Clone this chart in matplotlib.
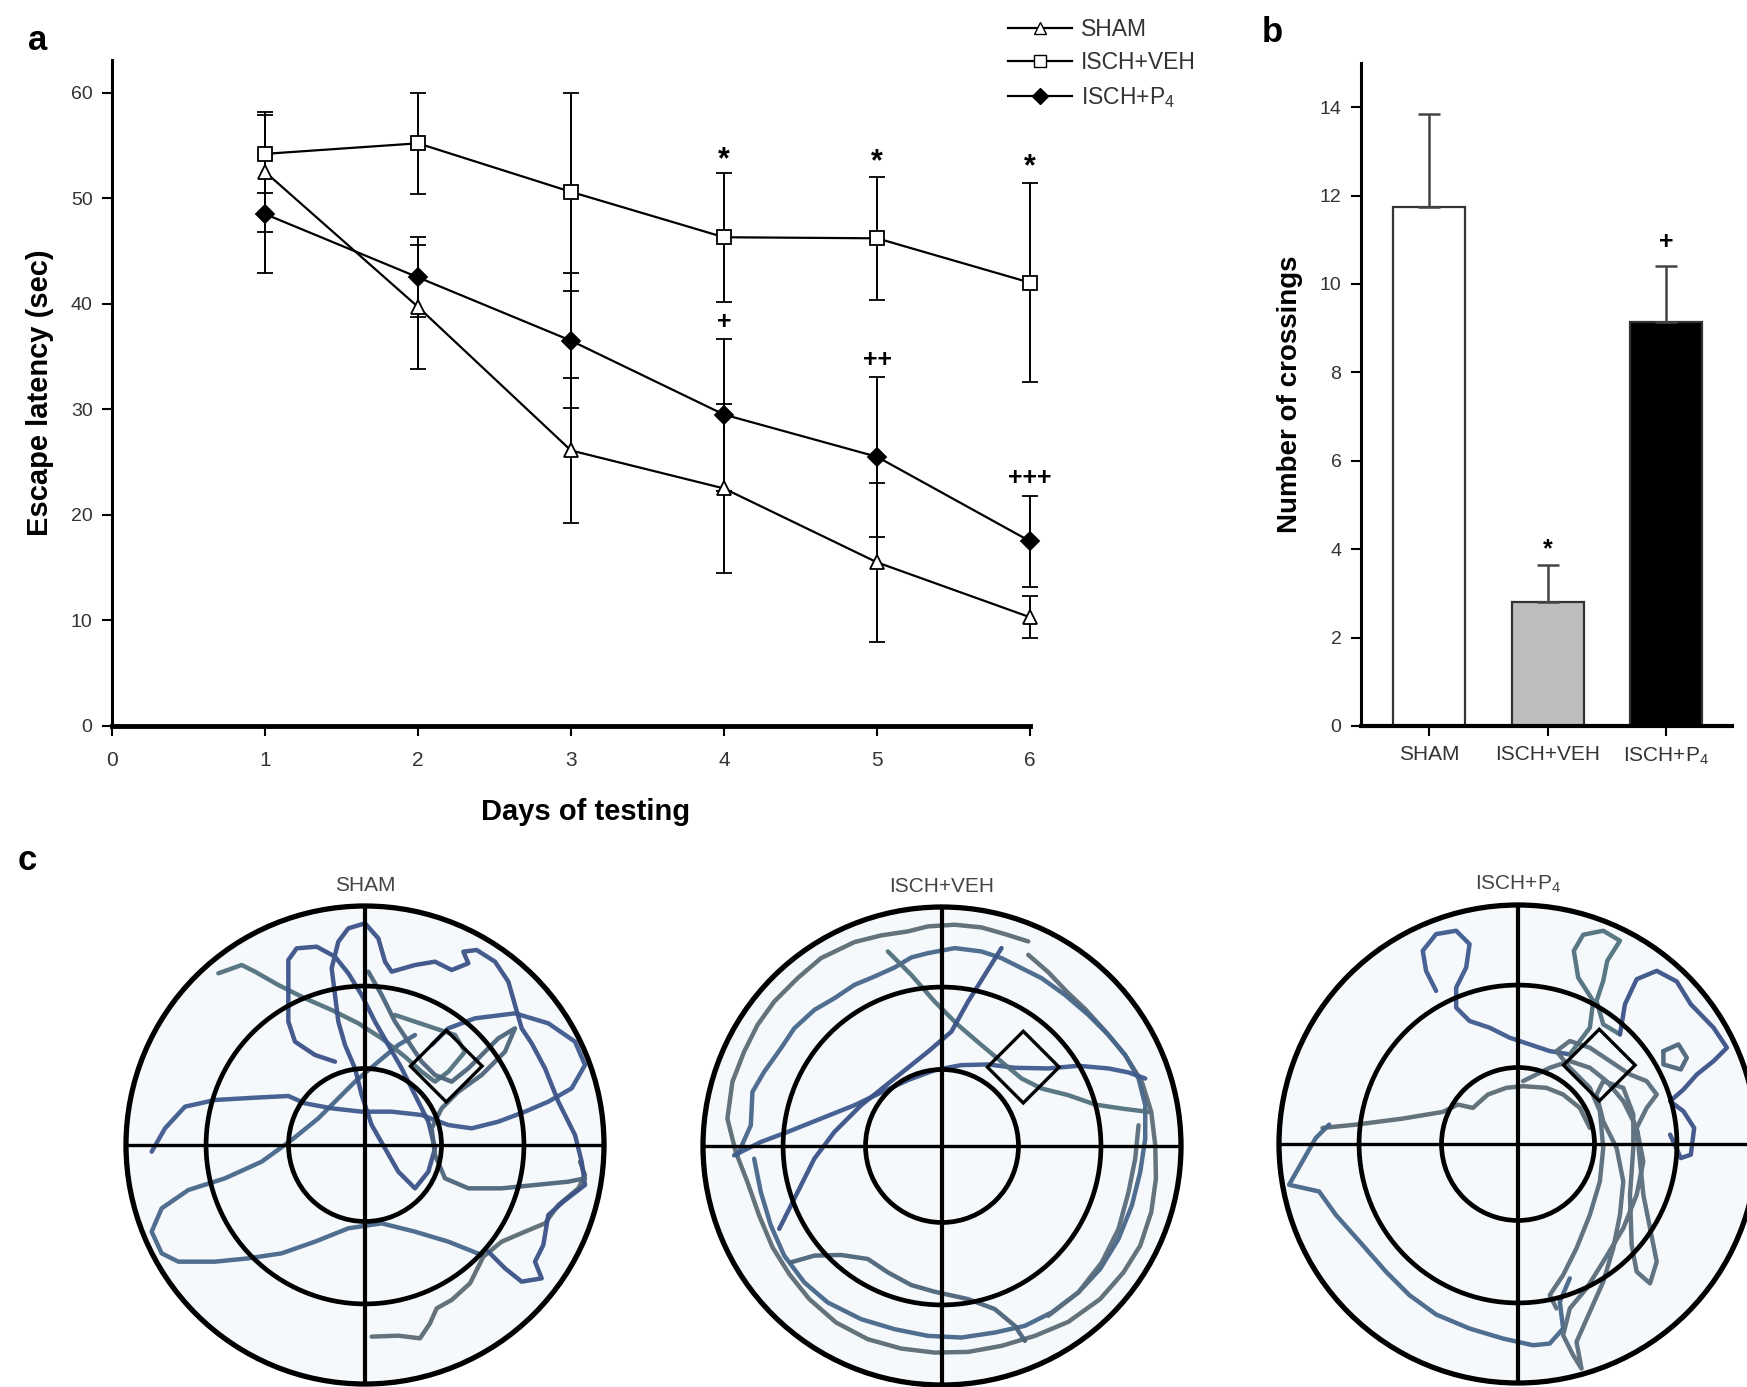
import numpy as np
import matplotlib.pyplot as plt
from matplotlib.lines import Line2D
from matplotlib.patches import Circle, Polygon

plt.rcParams['font.family'] = ['Liberation Sans', 'DejaVu Sans']
plt.rcParams['mathtext.default'] = 'regular'

# ---- panel a: escape latency ----
days = [1, 2, 3, 4, 5, 6]
sham_lat = [52.5, 39.7, 26.1, 22.5, 15.5, 10.3]
sham_err = [5.7, 5.9, 6.9, 8.0, 7.5, 2.0]
veh_lat = [54.2, 55.2, 50.6, 46.3, 46.2, 42.0]
veh_err = [3.7, 4.8, 9.4, 6.1, 5.8, 9.4]
p4_lat = [48.5, 42.5, 36.5, 29.5, 25.5, 17.5]
p4_err = [5.6, 3.8, 6.4, 7.2, 7.6, 4.3]

star_days = [4, 5, 6]
star_y = [53.6, 53.4, 52.9]
cross_days = [4, 5, 6]
cross_marks = ['+', '++', '+++']
cross_y = [38.3, 34.7, 23.5]

# ---- panel b: platform crossings ----
groups = ['SHAM', 'ISCH+VEH', 'ISCH+P$_4$']
crossings = [11.75, 2.81, 9.14]
crossings_err = [2.1, 0.83, 1.26]
bar_colors = ['white', '#bdbdbd', 'black']
bar_marks = ['', '*', '+']
bar_mark_y = [0, 4.0, 10.95]

# ---- panel c: swim paths (tracker grid units) ----
sham_tracks = [
    [(770, 1325), (850, 1322), (915, 1330), (945, 1285), (965, 1240), (1010, 1215), (1065, 1165),
     (1105, 1085), (1160, 1040), (1230, 1010), (1290, 985), (1330, 930), (1390, 880), (1410, 840), (1395, 800)],
    [(1100, 1080), (1000, 1040), (900, 1010), (800, 985), (700, 1000), (600, 1040), (500, 1075),
     (400, 1090), (300, 1100), (190, 1100), (140, 1075), (110, 1010), (140, 940), (220, 885), (330, 850),
     (440, 800), (530, 735), (610, 670), (670, 610), (720, 560), (790, 500), (850, 450), (900, 420)],
    [(110, 770), (150, 700), (210, 635), (300, 615), (420, 608), (520, 603), (570, 625), (650, 640),
     (740, 650), (830, 650), (920, 660), (1000, 690), (1070, 700), (1150, 680), (1230, 650), (1300, 620),
     (1370, 580), (1410, 510), (1380, 440), (1300, 385), (1200, 355), (1080, 370), (1000, 400), (950, 450)],
    [(310, 235), (380, 210), (420, 230), (490, 270), (570, 310), (650, 345), (730, 385), (800, 430),
     (870, 485), (920, 530), (960, 560), (1000, 530), (1050, 470), (1020, 420), (960, 400), (900, 380), (840, 360)],
    [(660, 500), (600, 480), (540, 440), (520, 380), (520, 270), (520, 195), (545, 160), (605, 155),
     (660, 185), (700, 235), (740, 300), (780, 380), (820, 450), (860, 520), (900, 600), (940, 680),
     (960, 760), (940, 830), (900, 880), (850, 830), (810, 760), (770, 690), (740, 600), (720, 520),
     (690, 450), (670, 380), (660, 300), (650, 220), (670, 140), (700, 100), (750, 85), (790, 130),
     (810, 200), (830, 230), (900, 210), (960, 200), (1010, 225), (1060, 205), (1045, 170), (1085, 165),
     (1140, 200), (1180, 260), (1200, 330), (1220, 400), (1250, 445), (1290, 520), (1330, 620),
     (1380, 720), (1400, 800), (1410, 870), (1345, 920), (1300, 960), (1285, 1050), (1260, 1100),
     (1280, 1150), (1220, 1160), (1170, 1120), (1120, 1070)],
    [(760, 230), (800, 300), (840, 380), (880, 440), (920, 500), (960, 540), (1010, 560), (1060, 520),
     (1100, 480), (1150, 430), (1200, 400), (1170, 470), (1100, 540), (1030, 590), (980, 640), (950, 700),
     (960, 780), (990, 850), (1060, 880), (1160, 880), (1260, 870), (1360, 860), (1410, 850)],
]
veh_tracks = [
    [(1000, 150), (930, 128), (860, 108), (780, 100), (700, 105), (640, 120), (560, 132), (480, 152),
     (380, 200), (310, 260), (240, 330), (190, 400), (150, 480), (115, 570), (100, 680), (125, 780),
     (160, 870), (195, 970), (235, 1065), (285, 1145), (345, 1220), (425, 1290), (520, 1340), (620, 1368),
     (720, 1380), (820, 1378), (920, 1360), (1020, 1330), (1120, 1288), (1215, 1220), (1285, 1140),
     (1335, 1060), (1368, 960), (1382, 860), (1380, 760), (1368, 660), (1340, 570), (1290, 490),
     (1232, 420), (1170, 352), (1115, 300), (1060, 242), (1000, 190)],
    [(130, 790), (170, 700), (175, 600), (210, 540), (260, 470), (300, 410), (360, 355), (420, 320),
     (480, 280), (540, 255), (600, 228), (650, 198), (700, 185), (780, 170), (860, 180), (920, 200),
     (970, 225), (1040, 260), (1110, 310), (1180, 370), (1240, 430), (1290, 490), (1330, 560),
     (1350, 640), (1350, 740), (1335, 840), (1310, 940), (1270, 1040), (1215, 1130), (1150, 1200),
     (1070, 1260), (990, 1300), (900, 1320), (800, 1335), (700, 1330), (600, 1310), (500, 1280),
     (400, 1230), (330, 1170), (270, 1090), (230, 1000), (200, 900), (180, 800)],
    [(120, 790), (200, 750), (280, 720), (380, 680), (480, 640), (560, 602), (640, 565), (720, 535),
     (800, 520), (880, 518), (960, 528), (1060, 530), (1150, 522), (1240, 530), (1300, 542), (1350, 560)],
    [(580, 180), (650, 250), (720, 330), (790, 400), (860, 460), (920, 510), (980, 560), (1040, 590),
     (1120, 610), (1200, 638), (1280, 650), (1360, 660)],
    [(920, 170), (870, 250), (820, 330), (770, 420), (700, 480), (600, 560), (500, 640), (420, 720),
     (360, 800), (320, 880), (280, 960), (255, 1010)],
    [(290, 1110), (360, 1090), (440, 1088), (520, 1100), (580, 1140), (650, 1178), (720, 1198),
     (820, 1220), (900, 1250), (960, 1300), (990, 1345)],
    [(1060, 1270), (1150, 1200), (1220, 1110), (1270, 1010), (1300, 900), (1320, 800), (1330, 700)],
]
p4_tracks = [
    [(160, 700), (260, 690), (400, 672), (520, 652), (565, 630), (610, 640), (655, 600), (710, 580),
     (760, 575), (830, 580), (880, 600), (930, 640), (960, 700)],
    [(180, 690), (140, 730), (60, 870), (150, 890), (200, 960), (280, 1050), (350, 1130), (420, 1200),
     (500, 1258), (600, 1300), (700, 1330), (790, 1350), (840, 1345), (880, 1300), (870, 1220), (900, 1150)],
    [(500, 290), (470, 230), (460, 170), (500, 120), (560, 110), (600, 150), (590, 220), (560, 280),
     (560, 340), (600, 380), (660, 400), (720, 430), (780, 450), (840, 470), (900, 480)],
    [(900, 480), (960, 400), (970, 320), (925, 250), (912, 170), (940, 122), (1000, 110), (1050, 140),
     (1012, 200), (1000, 260), (980, 320), (1000, 390), (1050, 420)],
    [(1050, 420), (1065, 330), (1100, 255), (1160, 230), (1220, 262), (1262, 330), (1330, 400),
     (1370, 460), (1330, 500), (1280, 540), (1240, 585), (1200, 620), (1240, 650), (1272, 700),
     (1262, 780), (1232, 790), (1200, 720)],
    [(1180, 470), (1225, 450), (1250, 490), (1232, 525), (1180, 510), (1180, 470)],
    [(760, 560), (840, 520), (900, 500), (960, 520), (1010, 560), (1060, 620), (1100, 700), (1120, 800),
     (1100, 900), (1060, 1000), (1000, 1100), (950, 1180), (900, 1240), (880, 1320), (910, 1380),
     (935, 1420), (920, 1340), (960, 1250), (1000, 1160), (1030, 1060), (1050, 960), (1060, 860),
     (1040, 760), (1000, 680), (980, 600), (1000, 560), (1060, 580), (1090, 660), (1090, 760),
     (1080, 900), (1085, 1050), (1100, 1130), (1140, 1165), (1160, 1100), (1140, 1000), (1120, 900),
     (1110, 800), (1100, 700), (1130, 640), (1160, 600), (1130, 560), (1080, 540), (1020, 500),
     (960, 460), (900, 440), (860, 470), (900, 520), (960, 580), (990, 650), (1000, 760), (990, 860),
     (960, 960), (920, 1060), (880, 1140), (840, 1200), (860, 1240)],
]
# tracker calibration: pool centre and radius in grid units
pool_calib = [(750, 750, 717), (742, 762, 715), (745, 748, 715)]
pool_titles = ['SHAM', 'ISCH+VEH', 'ISCH+P$_4$']
ring_radii = [1.0, 0.665, 0.32]
platform_xy = (0.34, 0.33)
platform_half = 0.15

track_colors = ['#5b6b74', '#46668a', '#3f5a8e', '#52707e', '#3b5288', '#4d647a', '#5a6d7c']

fig = plt.figure(figsize=(17.47, 13.87), dpi=100)

# ---------------- panel a ----------------
ax = fig.add_axes([0.0641, 0.4766, 0.5255, 0.4802])
series = [
    (sham_lat, sham_err, '^', 'white', 10, 'SHAM'),
    (veh_lat, veh_err, 's', 'white', 10, 'ISCH+VEH'),
    (p4_lat, p4_err, 'D', 'black', 9, 'ISCH+P$_4$'),
]
handles = []
for lat, err, mk, fc, ms, lab in series:
    cont = ax.errorbar(days, lat, yerr=err, fmt='-', color='black', lw=1.6, marker=mk, ms=ms,
                       mfc=fc, mec='black', mew=1.3, ecolor='black', elinewidth=1.4,
                       capsize=6, capthick=1.6, zorder=3)
    cont.lines[0].set_clip_on(False)
    for c in cont.lines[1]:
        c.set_clip_on(False)
    for b in cont.lines[2]:
        b.set_clip_on(False)
    handles.append(Line2D([], [], color='black', lw=1.6, marker=mk, ms=ms - 1, mfc=fc, mec='black'))

for d, y in zip(star_days, star_y):
    ax.text(d, y, '*', ha='center', va='center', fontsize=22, fontweight='bold')
for d, m, y in zip(cross_days, cross_marks, cross_y):
    ax.text(d, y, m, ha='center', va='center', fontsize=18, fontweight='bold')

ax.set_xlim(0, 6)
ax.set_ylim(0, 63.1)
ax.set_xticks(range(0, 7))
ax.set_yticks(range(0, 61, 10))
ax.spines['top'].set_visible(False)
ax.spines['right'].set_visible(False)
ax.spines['left'].set_linewidth(2.2)
ax.spines['bottom'].set_linewidth(3.5)
ax.tick_params(direction='out', length=7, width=1.5, labelsize=14, labelcolor='#333333', pad=7)
ax.tick_params(axis='x', labelsize=15, pad=11)
ax.set_xlabel('Days of testing', fontsize=21, fontweight='bold')
ax.xaxis.set_label_coords(0.516, -0.108)
ax.set_ylabel('Escape latency (sec)', fontsize=21, fontweight='bold', labelpad=12)

fig.legend(handles, [s[5] for s in series], loc='upper left',
           bbox_to_anchor=(1008 / 1747, 1 - 18 / 1387), frameon=False, fontsize=16.5,
           handlelength=2.8, handletextpad=0.4, labelspacing=0.45, borderpad=0, borderaxespad=0,
           labelcolor='#333333')

# ---------------- panel b ----------------
bx = fig.add_axes([0.779, 0.4766, 0.2124, 0.478])
xpos = np.arange(len(groups))
bx.bar(xpos, crossings, width=0.61, color=bar_colors, edgecolor='#333333', linewidth=1.6, zorder=2)
bx.errorbar(xpos, crossings, yerr=[np.zeros(len(groups)), crossings_err], fmt='none',
            ecolor='#444444', elinewidth=1.8, capsize=8, capthick=1.8, zorder=3)
for x, m, y in zip(xpos, bar_marks, bar_mark_y):
    if m:
        bx.text(x, y, m, ha='center', va='center', fontsize=18, fontweight='bold')
bx.set_xlim(-0.58, 2.56)
bx.set_ylim(0, 15)
bx.set_xticks(xpos)
bx.set_xticklabels(groups)
bx.set_yticks(range(0, 15, 2))
bx.spines['top'].set_visible(False)
bx.spines['right'].set_visible(False)
bx.spines['left'].set_linewidth(2.2)
bx.spines['bottom'].set_linewidth(3)
bx.tick_params(direction='out', length=7, width=1.5, labelsize=14, labelcolor='#333333', pad=7)
bx.tick_params(axis='x', labelsize=15)
bx.set_ylabel('Number of crossings', fontsize=20, fontweight='bold', labelpad=12)

# ---------------- panel c ----------------
pool_centres = [(365, 1145), (942, 1146), (1518, 1144)]
pool_r = 239
size = 2.2 * pool_r
for (cx, cy), title, tracks, (gx, gy, gr) in zip(pool_centres, pool_titles,
                                                 [sham_tracks, veh_tracks, p4_tracks], pool_calib):
    px = fig.add_axes([(cx - size / 2) / 1747, (1387 - cy - size / 2) / 1387, size / 1747, size / 1387])
    px.set_xlim(-1.1, 1.1)
    px.set_ylim(-1.1, 1.1)
    px.set_aspect('equal')
    px.axis('off')
    px.add_patch(Circle((0, 0), 1.0, facecolor='#f6f9fc', edgecolor='none', zorder=0))
    for i, tr in enumerate(tracks):
        arr = np.array(tr, dtype=float)
        u = (arr[:, 0] - gx) / gr
        v = (gy - arr[:, 1]) / gr
        px.plot(u, v, color=track_colors[i % len(track_colors)], lw=3.2, alpha=0.95,
                solid_joinstyle='round', solid_capstyle='round', zorder=1)
    for r in ring_radii:
        px.add_patch(Circle((0, 0), r, facecolor='none', edgecolor='black',
                            lw=3.8 if r == 1.0 else 3.4, zorder=3))
    px.plot([-1, 1], [0, 0], color='black', lw=2.4, zorder=3)
    px.plot([0, 0], [-1, 1], color='black', lw=3.0, zorder=3)
    ux, uy = platform_xy
    h = platform_half
    px.add_patch(Polygon([(ux, uy + h), (ux + h, uy), (ux, uy - h), (ux - h, uy)], closed=True,
                         facecolor='none', edgecolor='black', lw=2.4, zorder=4))
    px.text(0, 1.085, title, ha='center', va='center', fontsize=15, color='#444444')

# panel letters
fig.text(28 / 1747, 1 - 40 / 1387, 'a', fontsize=25, fontweight='bold', ha='left', va='center')
fig.text(1262 / 1747, 1 - 33 / 1387, 'b', fontsize=25, fontweight='bold', ha='left', va='center')
fig.text(18 / 1747, 1 - 860 / 1387, 'c', fontsize=25, fontweight='bold', ha='left', va='center')

fig.savefig('out.png', dpi=100, facecolor='white')
